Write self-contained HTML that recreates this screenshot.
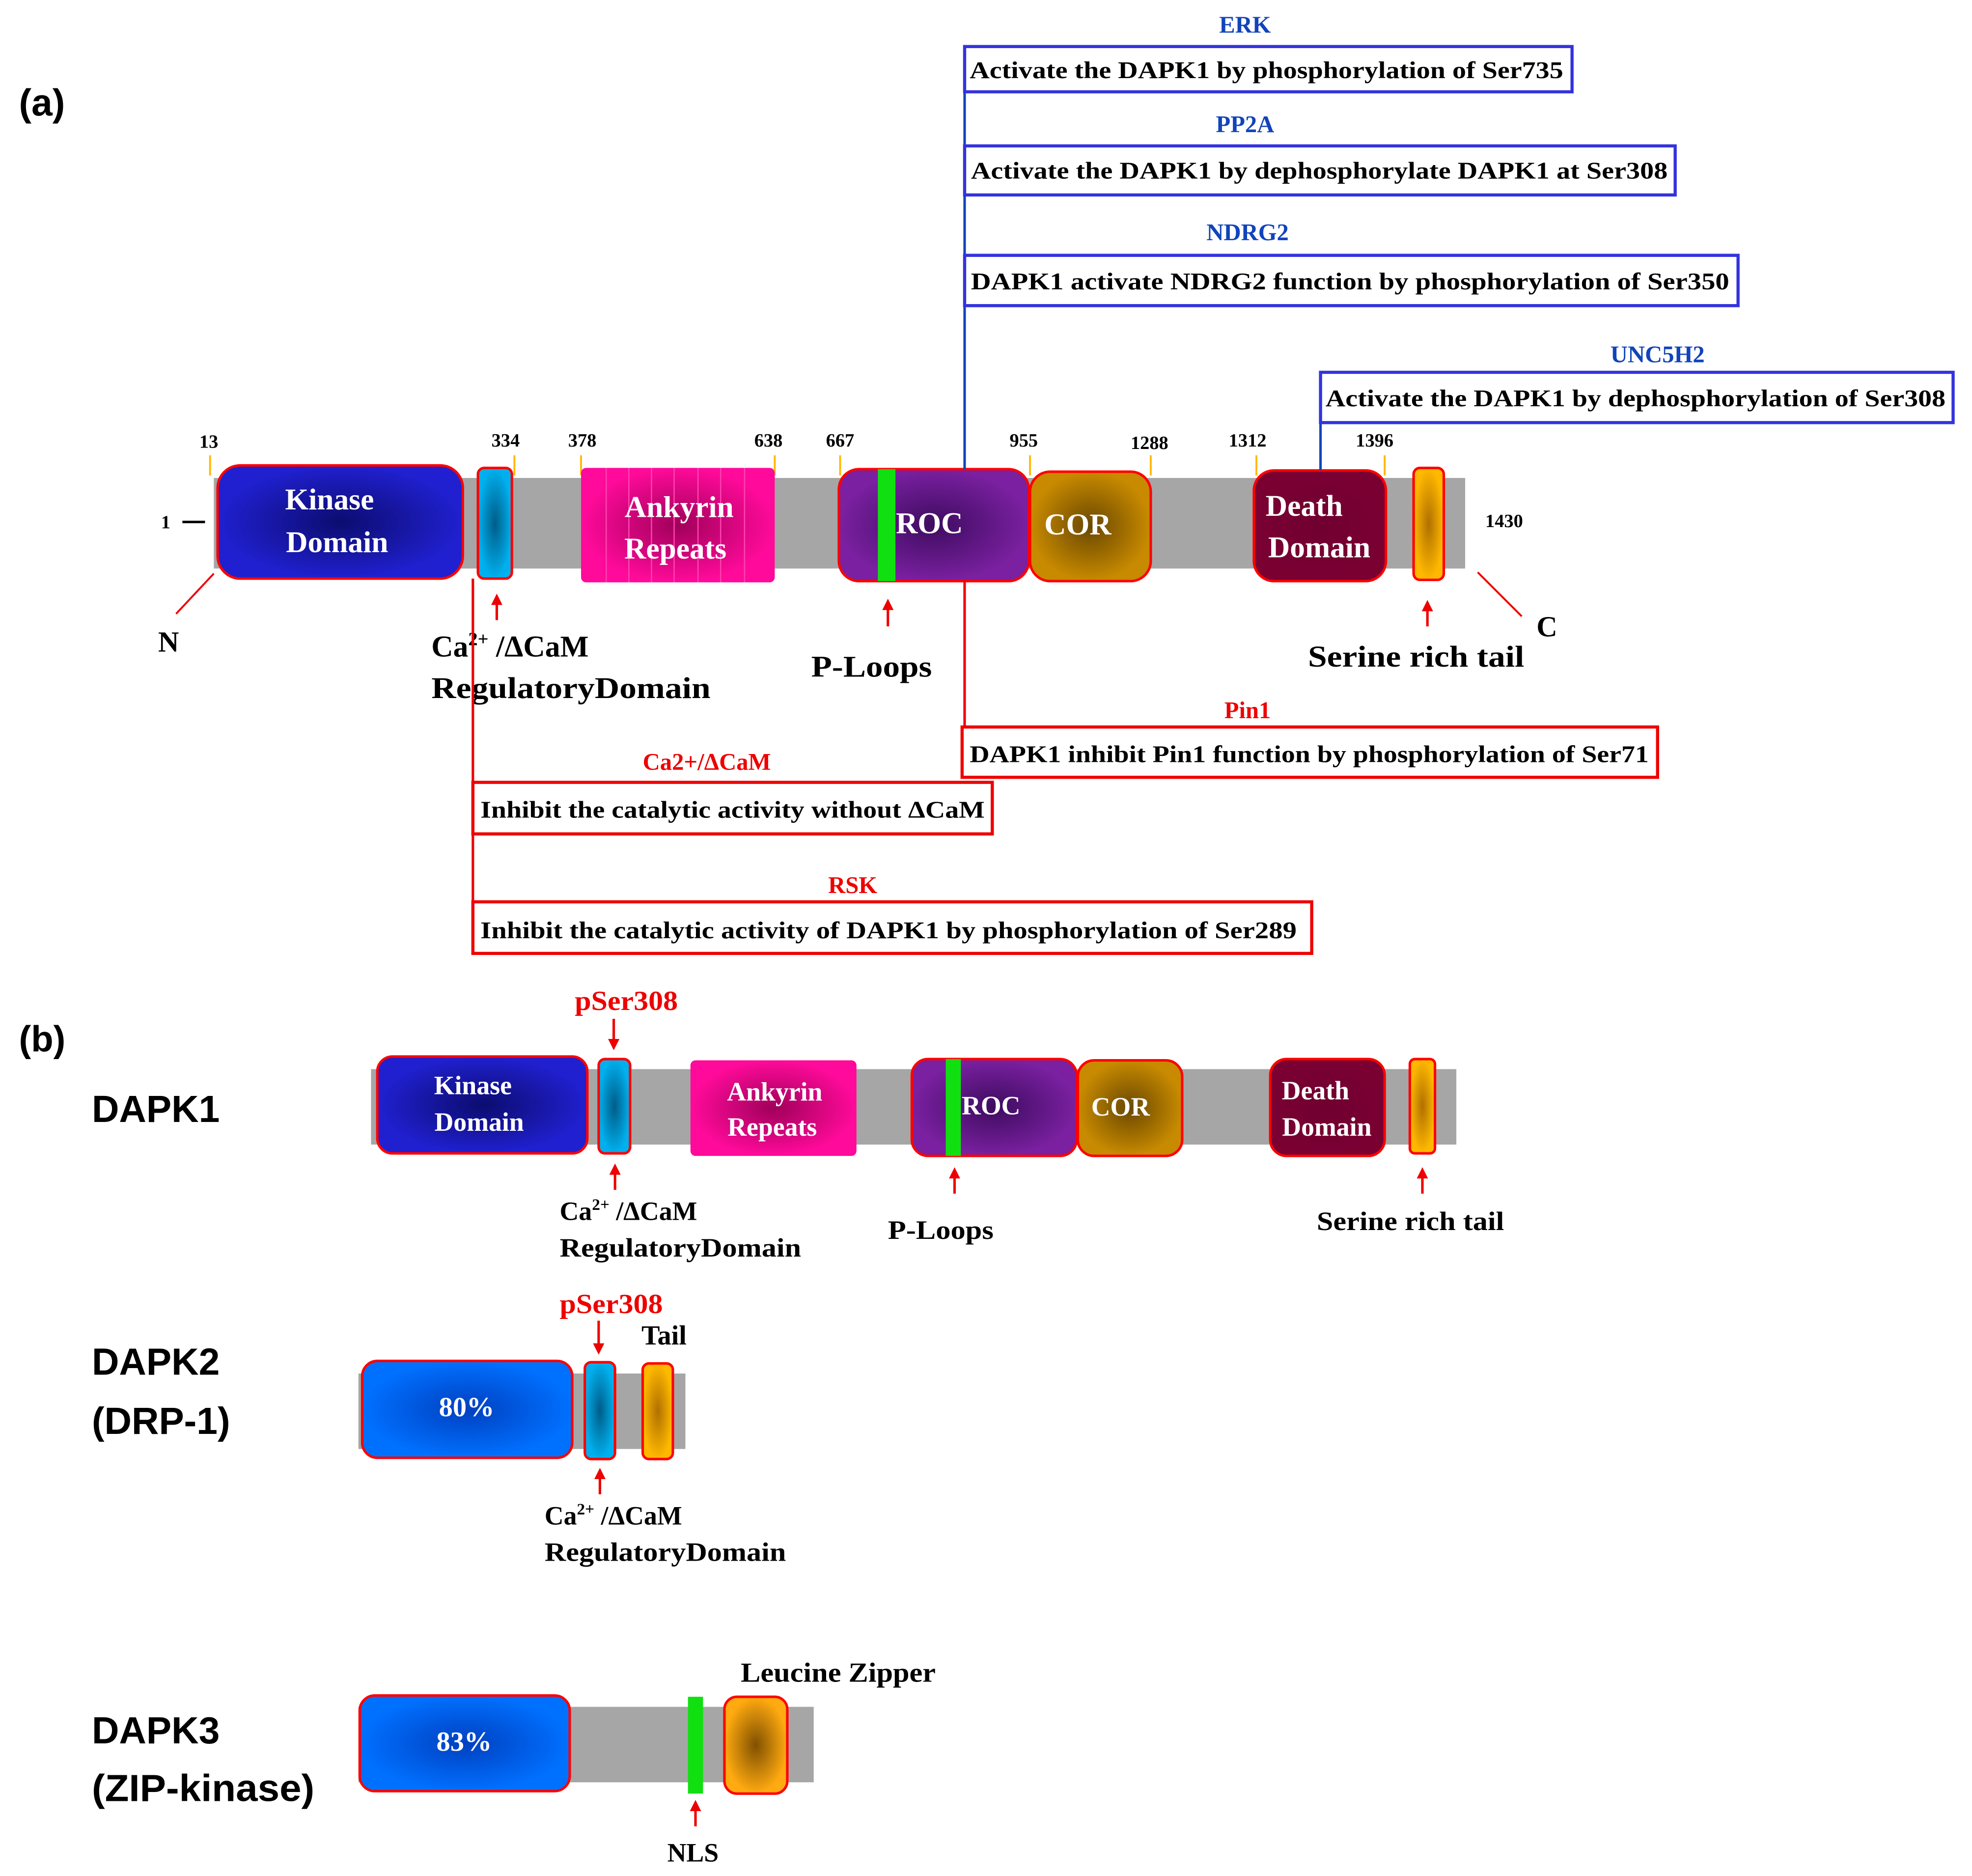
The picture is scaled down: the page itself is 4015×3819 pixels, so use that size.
<!DOCTYPE html>
<html><head><meta charset="utf-8">
<style>
html,body{margin:0;padding:0;background:#fff;}
svg{display:block;}
.s{font-family:"Liberation Serif",serif;font-weight:bold;}
.a{font-family:"Liberation Sans",sans-serif;font-weight:bold;}
</style></head>
<body>
<svg width="4015" height="3819" viewBox="0 0 1568 1491.5" xmlns="http://www.w3.org/2000/svg">
<defs>
<radialGradient id="gB"><stop offset="0" stop-color="#0c0c70"/><stop offset="1" stop-color="#2020d0"/></radialGradient>
<radialGradient id="gC"><stop offset="0" stop-color="#005c88"/><stop offset="1" stop-color="#00b0ee"/></radialGradient>
<radialGradient id="gM"><stop offset="0" stop-color="#a0005a"/><stop offset="1" stop-color="#ff0a9a"/></radialGradient>
<radialGradient id="gP"><stop offset="0" stop-color="#3e0c60"/><stop offset="1" stop-color="#7a20a0"/></radialGradient>
<radialGradient id="gO"><stop offset="0" stop-color="#6a4800"/><stop offset="1" stop-color="#c88a00"/></radialGradient>
<radialGradient id="gD"><stop offset="0" stop-color="#700030"/><stop offset="1" stop-color="#7a0032"/></radialGradient>
<radialGradient id="gY"><stop offset="0" stop-color="#b07000"/><stop offset="1" stop-color="#ffb800"/></radialGradient>
<radialGradient id="gL"><stop offset="0" stop-color="#0040c0"/><stop offset="1" stop-color="#0070ff"/></radialGradient>
<radialGradient id="gZ"><stop offset="0" stop-color="#805000"/><stop offset="1" stop-color="#ffaa10"/></radialGradient>
<marker id="ar" markerWidth="9" markerHeight="9" refX="4" refY="4.5" orient="auto" markerUnits="userSpaceOnUse"><path d="M0,0 L9,4.5 L0,9 Z" fill="#e00"/></marker>
</defs>

<!-- (a) -->
<text x="15" y="92" class="a" font-size="30">(a)</text>
<rect x="170" y="380" width="995" height="72" fill="#a6a6a6"/>
<g stroke="#ffb800" stroke-width="1.5">
<line x1="167" y1="362" x2="167" y2="378"/><line x1="409" y1="362" x2="409" y2="378"/><line x1="462" y1="362" x2="462" y2="378"/><line x1="616" y1="362" x2="616" y2="378"/><line x1="668" y1="362" x2="668" y2="378"/><line x1="819" y1="362" x2="819" y2="378"/><line x1="915" y1="362" x2="915" y2="378"/><line x1="999" y1="362" x2="999" y2="378"/><line x1="1101" y1="362" x2="1101" y2="378"/>
</g>
<g class="s" font-size="15" text-anchor="middle">
<text x="166" y="356">13</text><text x="402" y="355">334</text><text x="463" y="355">378</text><text x="611" y="355">638</text><text x="668" y="355">667</text><text x="814" y="355">955</text><text x="914" y="357">1288</text><text x="992" y="355">1312</text><text x="1093" y="355">1396</text><text x="1196" y="419">1430</text>
</g>
<text x="128" y="420" class="s" font-size="15">1</text>
<line x1="145" y1="415" x2="163" y2="415" stroke="#000" stroke-width="2"/>

<rect x="173" y="370" width="195" height="90" rx="18" fill="url(#gB)" stroke="#f00" stroke-width="2"/>
<rect x="380" y="372" width="27" height="88" rx="5" fill="url(#gC)" stroke="#f00" stroke-width="2"/>
<rect x="462" y="372" width="154" height="91" rx="4" fill="url(#gM)"/>
<g stroke="#ff40b0" stroke-width="1"><line x1="482" y1="372" x2="482" y2="463"/><line x1="500" y1="372" x2="500" y2="463"/><line x1="518" y1="372" x2="518" y2="463"/><line x1="536" y1="372" x2="536" y2="463"/><line x1="555" y1="372" x2="555" y2="463"/><line x1="573" y1="372" x2="573" y2="463"/><line x1="592" y1="372" x2="592" y2="463"/></g>
<rect x="667" y="373" width="151" height="89" rx="16" fill="url(#gP)" stroke="#f00" stroke-width="2"/>
<rect x="698" y="373" width="14" height="89" fill="#10e010"/>
<rect x="819" y="375" width="96" height="87" rx="16" fill="url(#gO)" stroke="#f00" stroke-width="2"/>
<rect x="997" y="374" width="105" height="88" rx="16" fill="url(#gD)" stroke="#f00" stroke-width="2"/>
<rect x="1124" y="372" width="24" height="89" rx="5" fill="url(#gY)" stroke="#f00" stroke-width="2"/>

<g class="s" fill="#fff" font-size="24" text-anchor="middle">
<text x="262" y="405">Kinase</text><text x="268" y="439">Domain</text>
<text x="540" y="411">Ankyrin</text><text x="537" y="444">Repeats</text>
<text x="739" y="424">ROC</text>
<text x="857" y="425">COR</text>
<text x="1037" y="410">Death</text><text x="1049" y="443">Domain</text>
</g>

<line x1="170" y1="456" x2="140" y2="488" stroke="#e00" stroke-width="1.5"/>
<text x="134" y="518" class="s" font-size="23" text-anchor="middle">N</text>
<line x1="1175" y1="455" x2="1210" y2="490" stroke="#e00" stroke-width="1.5"/>
<text x="1230" y="506" class="s" font-size="23" text-anchor="middle">C</text>

<g stroke="#e00" stroke-width="2">
<line x1="395" y1="493" x2="395" y2="477" marker-end="url(#ar)"/>
<line x1="706" y1="498" x2="706" y2="481" marker-end="url(#ar)"/>
<line x1="1135" y1="498" x2="1135" y2="482" marker-end="url(#ar)"/>
</g>
<text x="343" y="522" class="s" font-size="24">Ca<tspan font-size="15" dy="-9">2+</tspan><tspan dy="9"> /ΔCaM</tspan></text>
<text x="343" y="555" class="s" font-size="24" textLength="222" lengthAdjust="spacingAndGlyphs">RegulatoryDomain</text>
<text x="645" y="538" class="s" font-size="24" textLength="96" lengthAdjust="spacingAndGlyphs">P-Loops</text>
<text x="1040" y="530" class="s" font-size="24" textLength="172" lengthAdjust="spacingAndGlyphs">Serine rich tail</text>

<!-- blue annotations -->
<line x1="767" y1="37" x2="767" y2="373" stroke="#1144bb" stroke-width="2"/>
<line x1="1050" y1="296" x2="1050" y2="374" stroke="#1144bb" stroke-width="2"/>
<g fill="none" stroke="#3333dd" stroke-width="2.5">
<rect x="767" y="37" width="483" height="36"/>
<rect x="767" y="116" width="565" height="39"/>
<rect x="767" y="203" width="615" height="40"/>
<rect x="1050" y="296" width="503" height="40"/>
</g>
<g class="s" fill="#1144bb" font-size="19" text-anchor="middle">
<text x="990" y="26">ERK</text><text x="990" y="105">PP2A</text><text x="992" y="191">NDRG2</text><text x="1318" y="288">UNC5H2</text>
</g>
<g class="s" font-size="19" lengthAdjust="spacingAndGlyphs">
<text x="771" y="62" textLength="472" lengthAdjust="spacingAndGlyphs">Activate the DAPK1 by phosphorylation of Ser735</text>
<text x="772" y="142" textLength="554" lengthAdjust="spacingAndGlyphs">Activate the DAPK1 by dephosphorylate DAPK1 at Ser308</text>
<text x="772" y="230" textLength="603" lengthAdjust="spacingAndGlyphs">DAPK1 activate  NDRG2 function by phosphorylation of Ser350</text>
<text x="1054" y="323" textLength="493" lengthAdjust="spacingAndGlyphs">Activate the DAPK1 by dephosphorylation of Ser308</text>
</g>

<!-- red annotations -->
<line x1="767" y1="462" x2="767" y2="578" stroke="#e00" stroke-width="2"/>
<line x1="376" y1="460" x2="376" y2="742" stroke="#e00" stroke-width="2"/>
<g fill="none" stroke="#e00" stroke-width="2.5">
<rect x="765" y="578" width="553" height="40"/>
<rect x="376" y="622" width="413" height="41"/>
<rect x="376" y="717" width="667" height="41"/>
</g>
<g class="s" fill="#e00" font-size="19" text-anchor="middle">
<text x="992" y="571">Pin1</text><text x="562" y="612">Ca2+/ΔCaM</text><text x="678" y="710">RSK</text>
</g>
<g class="s" font-size="19">
<text x="771" y="606" textLength="540" lengthAdjust="spacingAndGlyphs">DAPK1 inhibit Pin1 function by phosphorylation of Ser71</text>
<text x="382" y="650" textLength="401" lengthAdjust="spacingAndGlyphs">Inhibit the catalytic activity without ΔCaM</text>
<text x="382" y="746" textLength="649" lengthAdjust="spacingAndGlyphs">Inhibit the catalytic activity of DAPK1 by  phosphorylation of Ser289</text>
</g>

<!-- (b) -->
<text x="15" y="836" class="a" font-size="29">(b)</text>
<text x="73" y="892" class="a" font-size="30">DAPK1</text>
<rect x="295" y="850" width="863" height="60" fill="#a6a6a6"/>
<rect x="300" y="840" width="167" height="77" rx="12" fill="url(#gB)" stroke="#f00" stroke-width="2"/>
<rect x="476" y="842" width="25" height="75" rx="5" fill="url(#gC)" stroke="#f00" stroke-width="2"/>
<rect x="549" y="843" width="132" height="76" rx="4" fill="url(#gM)"/>
<rect x="725" y="842" width="131" height="77" rx="13" fill="url(#gP)" stroke="#f00" stroke-width="2"/>
<rect x="752" y="842" width="12" height="77" fill="#10e010"/>
<rect x="857" y="843" width="83" height="76" rx="13" fill="url(#gO)" stroke="#f00" stroke-width="2"/>
<rect x="1010" y="842" width="91" height="77" rx="13" fill="url(#gD)" stroke="#f00" stroke-width="2"/>
<rect x="1121" y="842" width="20" height="75" rx="4" fill="url(#gY)" stroke="#f00" stroke-width="2"/>
<g class="s" fill="#fff" font-size="21" text-anchor="middle">
<text x="376" y="870">Kinase</text><text x="381" y="899">Domain</text>
<text x="616" y="875">Ankyrin</text><text x="614" y="903">Repeats</text>
<text x="788" y="886">ROC</text><text x="891" y="887">COR</text>
<text x="1046" y="874">Death</text><text x="1055" y="903">Domain</text>
</g>
<text x="457" y="803" class="s" fill="#e00" font-size="22" textLength="82" lengthAdjust="spacingAndGlyphs">pSer308</text>
<g stroke="#e00" stroke-width="2">
<line x1="488" y1="810" x2="488" y2="830" marker-end="url(#ar)"/>
<line x1="489" y1="946" x2="489" y2="930" marker-end="url(#ar)"/>
<line x1="759" y1="949" x2="759" y2="933" marker-end="url(#ar)"/>
<line x1="1131" y1="949" x2="1131" y2="933" marker-end="url(#ar)"/>
</g>
<text x="445" y="970" class="s" font-size="21">Ca<tspan font-size="13" dy="-8">2+</tspan><tspan dy="8"> /ΔCaM</tspan></text>
<text x="445" y="999" class="s" font-size="21" textLength="192" lengthAdjust="spacingAndGlyphs">RegulatoryDomain</text>
<text x="706" y="985" class="s" font-size="21" textLength="84" lengthAdjust="spacingAndGlyphs">P-Loops</text>
<text x="1047" y="978" class="s" font-size="21" textLength="149" lengthAdjust="spacingAndGlyphs">Serine rich tail</text>

<!-- DAPK2 -->
<text x="73" y="1093" class="a" font-size="30">DAPK2</text>
<text x="73" y="1140" class="a" font-size="30">(DRP-1)</text>
<rect x="285" y="1092" width="260" height="60" fill="#a6a6a6"/>
<rect x="288" y="1082" width="167" height="77" rx="12" fill="url(#gL)" stroke="#f00" stroke-width="2"/>
<rect x="465" y="1083" width="24" height="77" rx="5" fill="url(#gC)" stroke="#f00" stroke-width="2"/>
<rect x="511" y="1084" width="24" height="76" rx="5" fill="url(#gY)" stroke="#f00" stroke-width="2"/>
<text x="371" y="1126" class="s" fill="#fff" font-size="22" text-anchor="middle">80%</text>
<text x="445" y="1044" class="s" fill="#e00" font-size="22" textLength="82" lengthAdjust="spacingAndGlyphs">pSer308</text>
<text x="528" y="1069" class="s" font-size="22" text-anchor="middle">Tail</text>
<g stroke="#e00" stroke-width="2">
<line x1="476" y1="1050" x2="476" y2="1072" marker-end="url(#ar)"/>
<line x1="477" y1="1188" x2="477" y2="1172" marker-end="url(#ar)"/>
</g>
<text x="433" y="1212" class="s" font-size="21">Ca<tspan font-size="13" dy="-8">2+</tspan><tspan dy="8"> /ΔCaM</tspan></text>
<text x="433" y="1241" class="s" font-size="21" textLength="192" lengthAdjust="spacingAndGlyphs">RegulatoryDomain</text>

<!-- DAPK3 -->
<text x="73" y="1386" class="a" font-size="30">DAPK3</text>
<text x="73" y="1432" class="a" font-size="30" textLength="177" lengthAdjust="spacingAndGlyphs">(ZIP-kinase)</text>
<rect x="285" y="1357" width="362" height="60" fill="#a6a6a6"/>
<rect x="286" y="1348" width="167" height="76" rx="12" fill="url(#gL)" stroke="#f00" stroke-width="2"/>
<rect x="547" y="1349" width="12" height="77" fill="#10e010"/>
<rect x="576" y="1349" width="50" height="77" rx="10" fill="url(#gZ)" stroke="#f00" stroke-width="2"/>
<text x="369" y="1392" class="s" fill="#fff" font-size="22" text-anchor="middle">83%</text>
<text x="589" y="1337" class="s" font-size="22" textLength="155" lengthAdjust="spacingAndGlyphs">Leucine Zipper</text>
<line x1="553" y1="1452" x2="553" y2="1436" stroke="#e00" stroke-width="2" marker-end="url(#ar)"/>
<text x="551" y="1480" class="s" font-size="21" text-anchor="middle">NLS</text>
</svg>
</body></html>
